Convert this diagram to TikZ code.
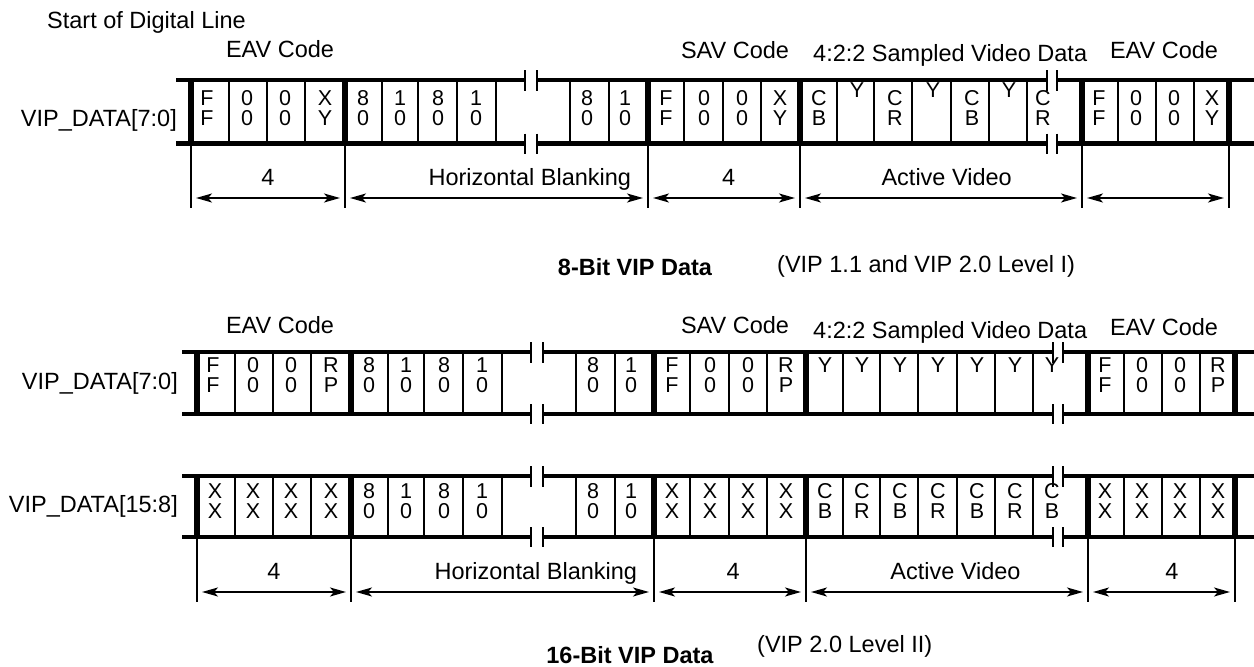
\documentclass[tikz,border=0pt]{standalone}
\usepackage{fontspec}
\setmainfont{Liberation Sans}
\usetikzlibrary{arrows.meta, positioning}

\begin{document}
\begin{tikzpicture}[
        x=1pt, y=-1pt,
        lbl/.style={font=\fontsize{23.5}{26}\selectfont, inner sep=0pt},
        figcap/.style={font=\fontsize{23.5}{26}\selectfont\bfseries, inner sep=0pt, anchor=base},
        bitchar/.style={font=\fontsize{21.5}{24}\selectfont, inner sep=0pt, anchor=base},
        bus/.style={line width=4.5pt},
        grpsep/.style={line width=5.5pt},
        cellsep/.style={line width=1.2pt},
        brk/.style={line width=1.5pt},
        dimline/.style={line width=1.5pt},
        arrow/.style={{Stealth[length=16pt,width=9pt,inset=4pt]}-{Stealth[length=16pt,width=9pt,inset=4pt]}, line width=1.7pt, shorten <=5pt, shorten >=5pt},
        dimlabel/.style={lbl, anchor=base, yshift=13pt}
    ]
    \useasboundingbox (0,0) rectangle (1254,667);

    % Bus rows: top, bottom, shift
    \foreach \ya/\yb/\dx in {80/143.5/0, 352/414/6, 476/537/6} {
        \begin{scope}[xshift=\dx pt]
            \foreach \y in {\ya,\yb}
                \draw[bus] (176,\y) -- (525,\y) (537,\y) -- (1047,\y) (1057,\y) -- (1260,\y);
            \foreach \x in {525,537,1047,1057}
                \draw[brk] (\x,\ya-10) -- (\x,\ya+11) (\x,\yb-10) -- (\x,\yb+10);
            \foreach \x in {191,345,648,800,1082,1229}
                \draw[grpsep] (\x,\ya-2) -- (\x,\yb+2);
            \foreach \x in {229,267,305,382,418,457,496,570,609,684,723,761,837,874,912,951,989,1027,1118,1156,1194}
                \draw[cellsep] (\x,\ya) -- (\x,\yb);
        \end{scope}
    }

    % 8-bit bus
    \node[lbl, anchor=base west] (sol) at (47,28) {Start of Digital Line};
    \node[lbl, anchor=base] (eav1) at (280,57) {EAV Code};
    \node[lbl, anchor=base] (sav1) at (735,58) {SAV Code};
    \node[lbl, anchor=base west] (vid1) at (813,61) {4:2:2 Sampled Video Data};
    \node[lbl, anchor=base] (eav2) at (1164,58) {EAV Code};
    \node[lbl, anchor=base east] (row8) at (177,126) {VIP\_DATA[7:0]};
    \foreach \x/\ca/\cb [count=\i] in {207/F/F, 247/0/0, 285/0/0, 325/X/Y, 363/8/0, 400/1/0, 438/8/0, 476/1/0, 587/8/0, 625/1/0, 666/F/F, 704/0/0, 742/0/0, 780/X/Y, 819/C/B, 895/C/R, 972/C/B, 1043/C/R, 1099/F/F, 1136/0/0, 1174/0/0, 1212/X/Y} {
        \node[bitchar] (a\i) at (\x,105) {\ca};
        \node[bitchar] (b\i) at (\x,125) {\cb};
    }
    \foreach \x [count=\i] in {857,933,1009}
        \node[bitchar] (y\i) at (\x,97) {Y};

    % 8-bit timing
    \foreach \x [count=\i from 0] in {191,345,648,800,1082,1229} {
        \draw[dimline] (\x,143.5) -- (\x,208);
        \coordinate (p\i) at (\x,198);
    }
    \draw[arrow] (p0) -- node[dimlabel, pos=.5] (hp1) {4} (p1);
    \draw[arrow] (p1) -- node[dimlabel, pos=.61] (hp2) {Horizontal Blanking} (p2);
    \draw[arrow] (p2) -- node[dimlabel, pos=.53] (hp3) {4} (p3);
    \draw[arrow] (p3) -- node[dimlabel, pos=.52] (hp4) {Active Video} (p4);
    \draw[arrow] (p4) -- (p5);

    \node[figcap] (cap8) at (635,275) {8-Bit VIP Data};
    \node[lbl, anchor=base west] (ver8) at (777,272) {(VIP 1.1 and VIP 2.0 Level I)};

    % 16-bit bus
    \node[lbl, anchor=base] (eav3) at (280,333) {EAV Code};
    \node[lbl, anchor=base] (sav2) at (735,333) {SAV Code};
    \node[lbl, anchor=base west] (vid2) at (813,338) {4:2:2 Sampled Video Data};
    \node[lbl, anchor=base] (eav4) at (1164,335) {EAV Code};
    \node[lbl, anchor=base east] (rowlo) at (178,389) {VIP\_DATA[7:0]};
    \node[lbl, anchor=base east] (rowhi) at (178,512) {VIP\_DATA[15:8]};
    \begin{scope}[xshift=6pt]
        \foreach \x/\ca/\cb [count=\i] in {207/F/F, 247/0/0, 285/0/0, 325/R/P, 363/8/0, 400/1/0, 438/8/0, 476/1/0, 587/8/0, 625/1/0, 666/F/F, 704/0/0, 742/0/0, 780/R/P, 1099/F/F, 1136/0/0, 1174/0/0, 1212/R/P} {
            \node[bitchar] (c\i) at (\x,372.5) {\ca};
            \node[bitchar] (d\i) at (\x,392.5) {\cb};
        }
        \foreach \x [count=\i] in {819,856,894,932,971,1009,1046}
            \node[bitchar] (z\i) at (\x,372.5) {Y};
        \foreach \x/\ca/\cb [count=\i] in {209/X/X, 247/X/X, 285/X/X, 325/X/X, 363/8/0, 400/1/0, 438/8/0, 476/1/0, 587/8/0, 625/1/0, 666/X/X, 704/X/X, 742/X/X, 780/X/X, 819/C/B, 856/C/R, 894/C/B, 932/C/R, 971/C/B, 1009/C/R, 1046/C/B, 1099/X/X, 1136/X/X, 1174/X/X, 1212/X/X} {
            \node[bitchar] (e\i) at (\x,498) {\ca};
            \node[bitchar] (f\i) at (\x,518) {\cb};
        }
    \end{scope}

    % 16-bit timing
    \foreach \x [count=\i from 0] in {197,351,654,806,1088,1235} {
        \draw[dimline] (\x,537) -- (\x,602);
        \coordinate (q\i) at (\x,592);
    }
    \draw[arrow] (q0) -- node[dimlabel, pos=.5] (hq1) {4} (q1);
    \draw[arrow] (q1) -- node[dimlabel, pos=.61] (hq2) {Horizontal Blanking} (q2);
    \draw[arrow] (q2) -- node[dimlabel, pos=.52] (hq3) {4} (q3);
    \draw[arrow] (q3) -- node[dimlabel, pos=.53] (hq4) {Active Video} (q4);
    \draw[arrow] (q4) -- node[dimlabel, pos=.57] (hq5) {4} (q5);

    \node[figcap] (cap16) at (630,663) {16-Bit VIP Data};
    \node[lbl, anchor=base west] (ver16) at (757,652) {(VIP 2.0 Level II)};
\end{tikzpicture}
\end{document}
